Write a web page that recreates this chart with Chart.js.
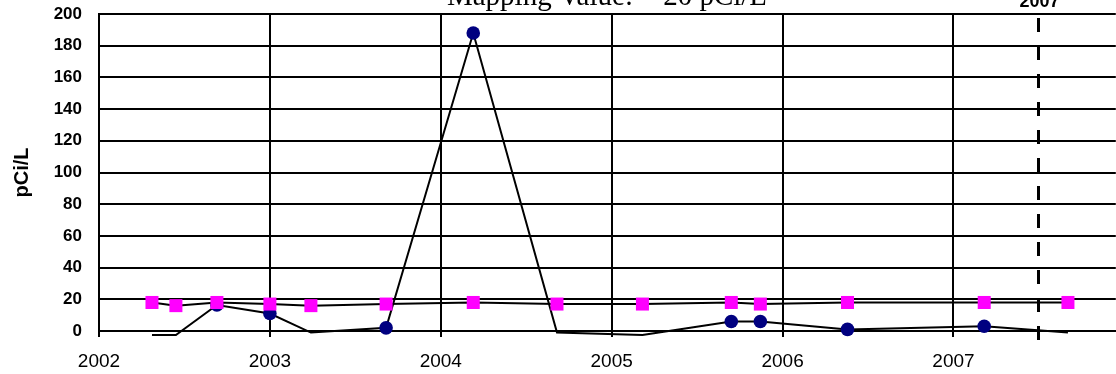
<!DOCTYPE html>
<html>
<head>
<meta charset="utf-8">
<script src="https://cdn.jsdelivr.net/npm/chart.js@4"></script>
<style>
  html, body { margin: 0; padding: 0; background: #fff; overflow: hidden; }
  #wrap { width: 1116px; height: 374px; overflow: hidden; }
  canvas { display: block; }
</style>
</head>
<body>
<div id="wrap"><canvas id="chart" width="1125" height="374"></canvas></div>
<script>
// sample dates (decimal years), shared by both series
const sampleDates = [2002.31, 2002.45, 2002.69, 2003.00, 2003.24, 2003.68, 2004.19,
                     2004.68, 2005.18, 2005.70, 2005.87, 2006.38, 2007.18, 2007.67];
// measured results (navy), non-detects are drawn without a marker
const measured = [-2.5, -2.5, 16.4, 11, -1, 2, 188, -1, -2.5, 6, 6, 1, 3, -1];
const measuredShown = [0, 0, 1, 1, 0, 1, 1, 0, 0, 1, 1, 1, 1, 0];
// second series (magenta squares)
const secondSeries = [18, 16, 18, 17, 16, 17, 18, 17, 17, 18, 17, 18, 18, 18];

const yTicks = [0, 20, 40, 60, 80, 100, 120, 140, 160, 180, 200];
const xYears = [2002, 2003, 2004, 2005, 2006, 2007];
const markerYear = 2007.5;
const markerLabel = '2007';
const titleText = 'Mapping Value:  ~20 pCi/L';

const toPoints = vals => vals.map((v, i) => ({ x: sampleDates[i], y: v }));

function noPadding(s) {
    s.paddingTop = 0;
    s.paddingBottom = 0;
    s.paddingLeft = 0;
    s.paddingRight = 0;
}

// extra drawing: cut-off title, dashed year marker and its label
const extras = {
    id: 'extras',
    afterDatasetsDraw(chart) {
        const ctx = chart.ctx;
        const area = chart.chartArea;
        const x = Math.round(chart.scales.x.getPixelForValue(markerYear)) - 0.5;
        ctx.save();
        ctx.strokeStyle = '#000';
        ctx.lineWidth = 3;
        ctx.setLineDash([14, 14]);
        ctx.beginPath();
        ctx.moveTo(x, area.top + 4);
        ctx.lineTo(x, area.bottom + 12);
        ctx.stroke();
        ctx.setLineDash([]);

        ctx.fillStyle = '#000';
        ctx.textAlign = 'center';
        ctx.textBaseline = 'alphabetic';
        ctx.font = 'bold 18px "Liberation Sans", Arial, sans-serif';
        ctx.fillText(markerLabel, x + 1, 7);

        ctx.font = '29px "Liberation Serif", "Times New Roman", serif';
        ctx.fillText(titleText, 607, 5);
        ctx.restore();
    }
};

new Chart(document.getElementById('chart').getContext('2d'), {
    type: 'line',
    data: {
        datasets: [
            {
                label: 'Series 2',
                data: toPoints(secondSeries),
                borderColor: '#000',
                borderWidth: 2,
                pointStyle: 'rect',
                pointRadius: 9.2,
                pointBackgroundColor: '#ff00ff',
                pointBorderColor: '#ff00ff',
                pointBorderWidth: 0,
                tension: 0,
                clip: false,
                order: 0
            },
            {
                label: 'Measured',
                data: toPoints(measured),
                borderColor: '#000',
                borderWidth: 2,
                pointStyle: 'circle',
                pointRadius: measuredShown.map(s => s ? 6.8 : 0),
                pointBackgroundColor: '#000080',
                pointBorderColor: '#000080',
                pointBorderWidth: 0,
                tension: 0,
                clip: false,
                order: 1
            }
        ]
    },
    options: {
        responsive: false,
        devicePixelRatio: 1,
        animation: false,
        layout: { padding: { top: 14, right: 0, left: 0, bottom: 0 } },
        plugins: {
            legend: { display: false },
            tooltip: { enabled: false }
        },
        scales: {
            x: {
                type: 'linear',
                min: 2002,
                max: 2007.95,
                afterFit: s => { s.height = 43; noPadding(s); },
                afterBuildTicks: s => { s.ticks = xYears.map(v => ({ value: v })); },
                ticks: {
                    stepSize: 1,
                    includeBounds: false,
                    color: '#000',
                    padding: 13,
                    maxRotation: 0,
                    font: { family: '"Liberation Sans", Arial, sans-serif', size: 19 },
                    callback: v => String(v)
                },
                grid: { color: '#000', lineWidth: 2, drawTicks: true, tickLength: 6 },
                border: { color: '#000', width: 2 }
            },
            y: {
                min: 0,
                max: 200,
                afterFit: s => { s.width = 99; noPadding(s); },
                afterBuildTicks: s => { s.ticks = yTicks.map(v => ({ value: v })); },
                ticks: {
                    stepSize: 20,
                    color: '#000',
                    padding: 17,
                    font: { family: '"Liberation Sans", Arial, sans-serif', size: 17, weight: 'bold' }
                },
                grid: { color: '#000', lineWidth: 2, drawTicks: false },
                border: { color: '#000', width: 2 },
                title: {
                    display: true,
                    text: 'pCi/L',
                    color: '#000',
                    padding: { top: 10, bottom: 0 },
                    font: { family: '"Liberation Sans", Arial, sans-serif', size: 20, weight: 'bold' }
                }
            }
        }
    },
    plugins: [extras]
});
</script>
</body>
</html>
